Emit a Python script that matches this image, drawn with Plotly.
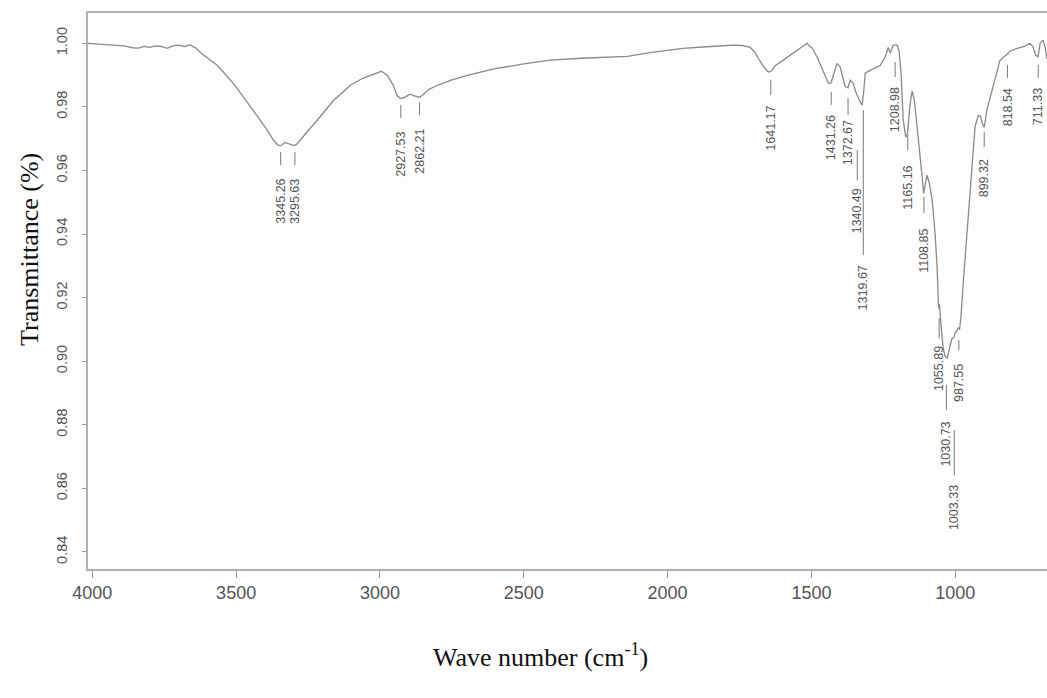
import plotly.graph_objects as go

# ---------------- data ----------------
wavenumber = [4015, 3980, 3950, 3920, 3890, 3860, 3840, 3820, 3800, 3780, 3760, 3740, 3720, 3700,
              3680, 3660, 3640, 3620, 3600, 3566, 3540, 3510, 3480, 3451, 3420, 3392, 3370, 3355,
              3345, 3330, 3315, 3300, 3290, 3270, 3250, 3218, 3190, 3162, 3130, 3103, 3060, 3020,
              2995, 2975, 2955, 2940, 2928, 2915, 2895, 2880, 2862, 2850, 2830, 2800, 2750, 2700,
              2650, 2600, 2500, 2408, 2300, 2200, 2140, 2050, 1946, 1850, 1772, 1740, 1713, 1695,
              1685, 1665, 1650, 1640, 1625, 1598, 1570, 1539, 1525, 1515, 1505, 1497, 1480, 1459,
              1441, 1432, 1420, 1411, 1400, 1383, 1373, 1365, 1355, 1345, 1335, 1324, 1318, 1313,
              1296, 1280, 1261, 1244, 1233, 1226, 1216, 1202, 1195, 1188, 1181, 1172, 1166, 1158,
              1150, 1142, 1132, 1122, 1115, 1110, 1104, 1098, 1090, 1080, 1070, 1063, 1058, 1055,
              1050, 1042, 1035, 1028, 1020, 1012, 1005, 1000, 995, 990, 985, 980, 972, 964, 954,
              942, 931, 920, 912, 905, 899, 890, 879, 865, 855, 845, 833, 820, 810, 785, 760, 740,
              730, 720, 712, 705, 695, 688, 681]
transmittance = [1.0000, 0.9998, 0.9995, 0.9993, 0.9992, 0.9986, 0.9985, 0.9990, 0.9987, 0.9992,
                 0.9990, 0.9984, 0.9992, 0.9994, 0.9990, 0.9995, 0.9985, 0.9968, 0.9955, 0.9931,
                 0.9905, 0.9874, 0.9838, 0.9800, 0.9763, 0.9727, 0.9695, 0.9680, 0.9678, 0.9688,
                 0.9684, 0.9678, 0.9682, 0.9702, 0.9725, 0.9758, 0.9790, 0.9820, 0.9845, 0.9868,
                 0.9890, 0.9905, 0.9912, 0.9900, 0.9870, 0.9835, 0.9826, 0.9830, 0.9840, 0.9835,
                 0.9830, 0.9838, 0.9855, 0.9868, 0.9885, 0.9898, 0.9910, 0.9920, 0.9935, 0.9947,
                 0.9953, 0.9958, 0.9959, 0.9972, 0.9984, 0.9990, 0.9994, 0.9993, 0.9987, 0.9970,
                 0.9953, 0.9925, 0.9910, 0.9912, 0.9930, 0.9947, 0.9965, 0.9987, 0.9995, 1.0000,
                 0.9990, 0.9985, 0.9956, 0.9910, 0.9874, 0.9875, 0.9915, 0.9937, 0.9925, 0.9865,
                 0.9860, 0.9884, 0.9875, 0.9845, 0.9825, 0.9805, 0.9850, 0.9906, 0.9915, 0.9922,
                 0.9930, 0.9956, 0.9987, 0.9969, 0.9994, 0.9994, 0.9975, 0.9900, 0.9760, 0.9705,
                 0.9715, 0.9800, 0.9850, 0.9820, 0.9736, 0.9650, 0.9580, 0.9528, 0.9560, 0.9585,
                 0.9560, 0.9506, 0.9400, 0.9296, 0.9166, 0.9180, 0.9120, 0.9040, 0.9015, 0.9010,
                 0.9040, 0.9070, 0.9075, 0.9090, 0.9095, 0.9105, 0.9100, 0.9140, 0.9250, 0.9350,
                 0.9450, 0.9612, 0.9738, 0.9774, 0.9770, 0.9745, 0.9736, 0.9790, 0.9830, 0.9880,
                 0.9915, 0.9945, 0.9956, 0.9965, 0.9975, 0.9984, 0.9990, 1.0000, 0.9990, 0.9962,
                 0.9958, 1.0000, 1.0010, 0.9990, 0.9950]

# peak labels: text, tick top, tick bottom, text centre (transmittance units)
peak_labels = ["3345.26", "3295.63", "2927.53", "2862.21", "1641.17", "1431.26", "1372.67",
               "1340.49", "1319.67", "1208.98", "1165.16", "1108.85", "1055.89", "1030.73",
               "1003.33", "987.55", "899.32", "818.54", "711.33"]
tick_top = [0.9658, 0.9658, 0.9806, 0.9815, 0.9885, 0.9847, 0.9828, 0.9664, 0.9790, 0.9941,
            0.9712, 0.9517, 0.9135, 0.8925, 0.8783, 0.9067, 0.9721, 0.9932, 0.9932]
tick_bottom = [0.9617, 0.9617, 0.9765, 0.9774, 0.9837, 0.9806, 0.9774, 0.9569, 0.9334, 0.9894,
               0.9664, 0.9466, 0.9072, 0.8846, 0.8641, 0.9035, 0.9674, 0.9891, 0.9891]
text_centre = [0.9504, 0.9504, 0.9652, 0.9661, 0.9734, 0.9702, 0.9686, 0.9472, 0.9230, 0.9790,
               0.9545, 0.9347, 0.8976, 0.8739, 0.8539, 0.8931, 0.9576, 0.9800, 0.9800]

x_ticks = [4000, 3500, 3000, 2500, 2000, 1500, 1000]
y_ticks = [0.84, 0.86, 0.88, 0.90, 0.92, 0.94, 0.96, 0.98, 1.00]
y_tick_text = ["0.84", "0.86", "0.88", "0.90", "0.92", "0.94", "0.96", "0.98", "1.00"]

# ---------------- figure ----------------
W, H = 1047, 698
L, R, T, B = 88, 0, 13, 129
pw, ph = W - L - R, H - T - B


def px2paper(px, py):
    return (px - L) / pw, (H - B - py) / ph


fig = go.Figure()
fig.add_trace(go.Scatter(x=wavenumber, y=transmittance, mode="lines",
                         line=dict(color="#8a8a8a", width=1.3), hoverinfo="skip",
                         showlegend=False))

shapes = []
annotations = []
for lab, t0, t1, tc in zip(peak_labels, tick_top, tick_bottom, text_centre):
    xv = float(lab)
    shapes.append(dict(type="line", xref="x", yref="y", x0=xv, x1=xv, y0=t0, y1=t1,
                       line=dict(color="#7a7a7a", width=1)))
    annotations.append(dict(x=xv, y=tc, xref="x", yref="y", text=lab, showarrow=False,
                            textangle=-90, xanchor="center", yanchor="middle",
                            font=dict(family="Liberation Sans, Arial", size=12.5, color="#555555")))

ax_, ay_ = px2paper(29, 250)
annotations.append(dict(x=ax_, y=ay_, xref="paper", yref="paper", text="Transmittance (%)",
                        showarrow=False, textangle=-90, xanchor="center", yanchor="middle",
                        font=dict(family="Liberation Serif, Times New Roman", size=26,
                                  color="#111111")))
bx_, by_ = px2paper(540, 655)
annotations.append(dict(x=bx_, y=by_, xref="paper", yref="paper",
                        text="Wave number (cm<sup>-1</sup>)", showarrow=False,
                        xanchor="center", yanchor="middle",
                        font=dict(family="Liberation Serif, Times New Roman", size=26,
                                  color="#111111")))

fig.update_layout(
    width=W, height=H,
    margin=dict(l=L, r=R, t=T, b=B),
    paper_bgcolor="#fdfdfd", plot_bgcolor="#fdfdfd",
    shapes=shapes, annotations=annotations,
    xaxis=dict(range=[4015, 681], tickvals=x_ticks, ticks="outside", ticklen=7,
               tickcolor="#9a9a9a", tickwidth=1, showline=True, linecolor="#b0b0b0",
               linewidth=1.5, mirror=True, showgrid=False, zeroline=False,
               tickfont=dict(family="Liberation Sans, Arial", size=18, color="#555555")),
    yaxis=dict(range=[0.83465, 1.00953], tickvals=y_ticks, ticktext=y_tick_text,
               tickangle=-90, ticks="outside", ticklen=4, tickcolor="#9a9a9a", tickwidth=1,
               ticklabelstandoff=9,
               showline=True, linecolor="#b0b0b0", linewidth=1.5, showgrid=False,
               zeroline=False,
               tickfont=dict(family="Liberation Sans, Arial", size=14.5, color="#555555")),
)

fig.write_html("out.html")
